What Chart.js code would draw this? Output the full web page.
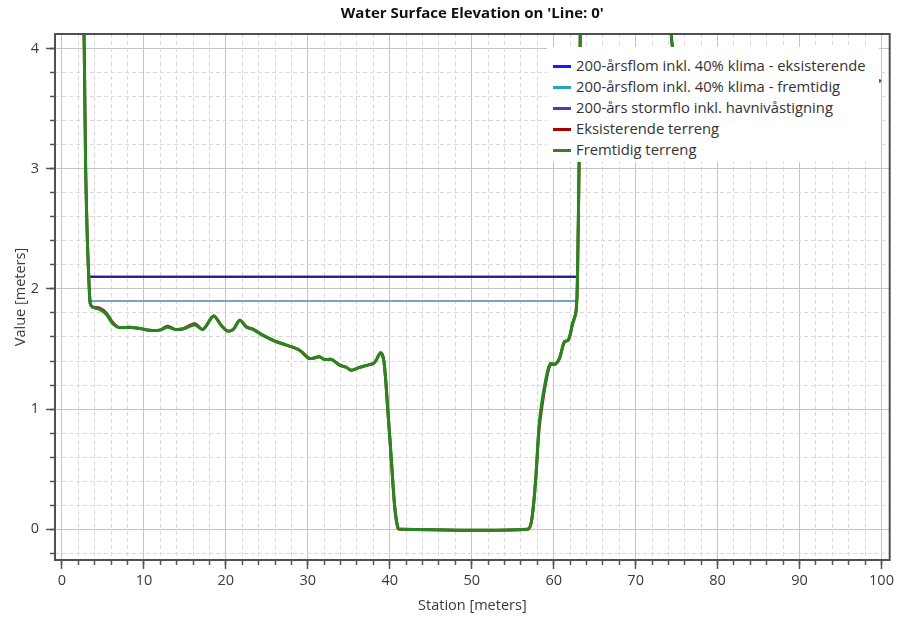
<!DOCTYPE html>
<html>
<head>
<meta charset="utf-8">
<title>Water Surface Elevation</title>
<script src="https://cdn.jsdelivr.net/npm/chart.js@4.4.1/dist/chart.umd.min.js"></script>
<style>
  html, body { margin: 0; padding: 0; background: #fff; }
  #wrap { position: relative; width: 897px; height: 619px; }
  #legend {
    position: absolute; left: 547px; top: 47px; width: 332px; height: 115px;
    background: #fff; box-sizing: border-box; padding: 8px 0 0 6px;
    font-family: "Open Sans", "Noto Sans", sans-serif; font-size: 14.8px; color: #333;
  }
  #legend .item { height: 21px; line-height: 21px; white-space: nowrap; }
  #legend .swatch { display: inline-block; width: 18px; height: 3px; vertical-align: middle; margin-right: 5px; position: relative; top: -1px; }
</style>
</head>
<body>
<div id="wrap">
  <canvas id="chart"></canvas>
  <div id="legend"></div>
</div>
<script>
(function () {
  "use strict";

  var seriesNames = [
    "200-årsflom inkl. 40% klima - eksisterende",
    "200-årsflom inkl. 40% klima - fremtidig",
    "200-års stormflo inkl. havnivåstigning",
    "Eksisterende terreng",
    "Fremtidig terreng"
  ];

  // water levels (flat lines across the channel)
  var waterStation = [3.3, 62.8];
  var flomEksisterende = [2.10, 2.10];
  var flomFremtidig = [1.90, 1.90];
  var stormflo = [2.10, 2.10];

  // terrain profile
  var terrainStation = [2.55, 2.72, 2.89, 3.10, 3.30, 3.45, 3.70, 4.6, 5.4, 6.2,
    6.9, 8.3, 9.5, 10.7, 11.9, 12.9, 13.8, 14.8, 16.2, 17.2,
    18.5, 19.4, 20.2, 20.9, 21.7, 22.5, 23.3, 24.5, 25.9, 27.4,
    29.0, 30.2, 31.4, 32.0, 32.9, 33.9, 34.7, 35.3, 36.3, 37.3,
    38.1, 38.9, 39.3, 39.75, 40.2, 40.6, 41.0, 41.4, 56.8, 57.3,
    57.8, 58.2, 58.6, 59.2, 59.6, 60.2, 60.7, 61.3, 61.8, 62.3,
    62.7, 62.85, 62.95, 63.1, 63.25, 63.4, 74.2, 74.4, 74.55, 76,
    80, 85, 90, 95, 99.8];
  var terrengFremtidig = [4.6, 4.0, 3.0, 2.4, 2.05, 1.88, 1.85, 1.83, 1.79, 1.71,
    1.68, 1.68, 1.67, 1.655, 1.657, 1.68, 1.663, 1.668, 1.70, 1.663,
    1.775, 1.70, 1.65, 1.663, 1.74, 1.68, 1.663, 1.615, 1.568, 1.532,
    1.49, 1.421, 1.435, 1.413, 1.413, 1.366, 1.347, 1.324, 1.347, 1.366,
    1.385, 1.468, 1.39, 1.0, 0.57, 0.19, 0.01, 0, 0, 0.07,
    0.41, 0.85, 1.075, 1.30, 1.38, 1.374, 1.42, 1.56, 1.574, 1.71,
    1.80, 1.95, 2.3, 3.04, 4.2, 5.0, 5.0, 4.3, 4.0, 3.95,
    3.9, 3.85, 3.8, 3.76, 3.73];
  var terrengEksisterende = [4.6, 4.0, 3.0, 2.4, 2.05, 1.88, 1.85, 1.84, 1.80, 1.72,
    1.68, 1.68, 1.67, 1.655, 1.657, 1.69, 1.663, 1.668, 1.71, 1.663,
    1.775, 1.70, 1.65, 1.663, 1.74, 1.685, 1.665, 1.615, 1.568, 1.532,
    1.49, 1.421, 1.435, 1.413, 1.413, 1.366, 1.347, 1.324, 1.347, 1.366,
    1.385, 1.468, 1.39, 1.0, 0.57, 0.19, 0.01, 0, 0, 0.07,
    0.41, 0.82, 1.04, 1.28, 1.37, 1.374, 1.42, 1.56, 1.574, 1.71,
    1.80, 1.95, 2.3, 3.04, 4.2, 5.0, 5.0, 4.3, 4.0, 3.95,
    3.9, 3.85, 3.8, 3.76, 3.73];

  var xMin = -0.85, xMax = 101;
  var yMin = -0.255, yMax = 4.12;
  var xTickStep = 10, xMinorStep = 2;
  var yTickStep = 1, yMinorStep = 0.2;

  var lineColors = ["#1c1c96", "#74a4cc", "#4b2aa8", "#b3121a", "#23881e"];
  var legendColors = ["#1a1aff", "#22aab0", "#5a2fc4", "#a80000", "#3e7d23"];

  function points(xs, ys) {
    return xs.map(function (x, i) { return { x: x, y: ys[i] }; });
  }

  var FONT = "'Open Sans', 'Noto Sans', sans-serif";
  var tickFont = { family: FONT, size: 14.5 };

  function isMajor(v, step) {
    var r = v / step;
    return Math.abs(r - Math.round(r)) < 1e-6;
  }

  var titlePlugin = {
    id: "plotTitle",
    afterDraw: function (chart) {
      var ctx = chart.ctx, a = chart.chartArea;
      ctx.save();
      ctx.font = "bold 15px " + FONT;
      ctx.fillStyle = "#111";
      ctx.textAlign = "center";
      ctx.textBaseline = "middle";
      ctx.fillText("Water Surface Elevation on 'Line: 0'", (a.left + a.right) / 2, 14);
      ctx.restore();
    }
  };

  var framePlugin = {
    id: "plotFrame",
    afterDatasetsDraw: function (chart) {
      var ctx = chart.ctx, a = chart.chartArea;
      ctx.save();
      ctx.strokeStyle = "#505050";
      ctx.lineWidth = 2;
      ctx.strokeRect(a.left, a.top, a.right - a.left, a.bottom - a.top);
      ctx.restore();
    }
  };

  var datasets = [
    { label: seriesNames[0], data: points(waterStation, flomEksisterende), borderColor: lineColors[0], borderWidth: 2, order: 3 },
    { label: seriesNames[1], data: points(waterStation, flomFremtidig), borderColor: lineColors[1], borderWidth: 2, order: 2 },
    { label: seriesNames[2], data: points(waterStation, stormflo), borderColor: lineColors[2], borderWidth: 2, order: 4 },
    { label: seriesNames[3], data: points(terrainStation, terrengEksisterende), borderColor: lineColors[3], borderWidth: 3, order: 1 },
    { label: seriesNames[4], data: points(terrainStation, terrengFremtidig), borderColor: lineColors[4], borderWidth: 3, order: 0 }
  ];

  new Chart(document.getElementById("chart"), {
    type: "line",
    data: { datasets: datasets },
    options: {
      responsive: true,
      maintainAspectRatio: false,
      animation: false,
      layout: { padding: { top: 34, right: 6, left: 0, bottom: 0 } },
      elements: {
        point: { radius: 0 },
        line: { tension: 0.3, fill: false, borderCapStyle: "round", borderJoinStyle: "round" }
      },
      plugins: { legend: { display: false }, tooltip: { enabled: false } },
      scales: {
        x: {
          type: "linear", position: "bottom", min: xMin, max: xMax, weight: 1,
          afterFit: function (s) { s.height = 59; },
          ticks: { stepSize: xTickStep, includeBounds: false, padding: 3, color: "#3a3a3a", font: tickFont, maxRotation: 0 },
          grid: { color: "#c4c4c4", lineWidth: 1, tickLength: 9, tickColor: "#555", tickWidth: 1.5 },
          border: { display: false },
          title: { display: true, text: "Station [meters]", color: "#3a3a3a", font: { family: FONT, size: 14.5 }, padding: { top: 0, bottom: 4 } }
        },
        xMinor: {
          type: "linear", position: "bottom", min: xMin, max: xMax, weight: 0,
          afterFit: function (s) { s.height = 0; },
          ticks: { stepSize: xMinorStep, includeBounds: false, display: false },
          grid: {
            color: function (c) { return isMajor(c.tick.value, xTickStep) ? "transparent" : "#d9d9d9"; },
            lineWidth: 1, tickLength: 5, tickColor: "#555", tickWidth: 1.5
          },
          border: { display: false, dash: [4, 3] }
        },
        y: {
          type: "linear", position: "left", min: yMin, max: yMax, weight: 1,
          afterFit: function (s) { s.width = 55; },
          ticks: { stepSize: yTickStep, includeBounds: false, padding: 7, color: "#3a3a3a", font: tickFont },
          grid: { color: "#c4c4c4", lineWidth: 1, tickLength: 9, tickColor: "#555", tickWidth: 1.5 },
          border: { display: false },
          title: { display: true, text: "Value [meters]", color: "#3a3a3a", font: { family: FONT, size: 14.5 }, padding: { top: 12, bottom: 0 } }
        },
        yMinor: {
          type: "linear", position: "left", min: yMin, max: yMax, weight: 0,
          afterFit: function (s) { s.width = 0; },
          ticks: { stepSize: yMinorStep, includeBounds: false, display: false },
          grid: {
            color: function (c) { return isMajor(c.tick.value, yTickStep) ? "transparent" : "#d9d9d9"; },
            lineWidth: 1, tickLength: 5, tickColor: "#555", tickWidth: 1.5
          },
          border: { display: false, dash: [4, 3] }
        }
      }
    },
    plugins: [titlePlugin, framePlugin]
  });

  // legend drawn as an overlay box inside the plot, above the lines
  var legendEl = document.getElementById("legend");
  seriesNames.forEach(function (name, i) {
    var row = document.createElement("div");
    row.className = "item";
    row.innerHTML = '<span class="swatch" style="background:' + legendColors[i] + '"></span>' + name;
    legendEl.appendChild(row);
  });
})();
</script>
</body>
</html>
